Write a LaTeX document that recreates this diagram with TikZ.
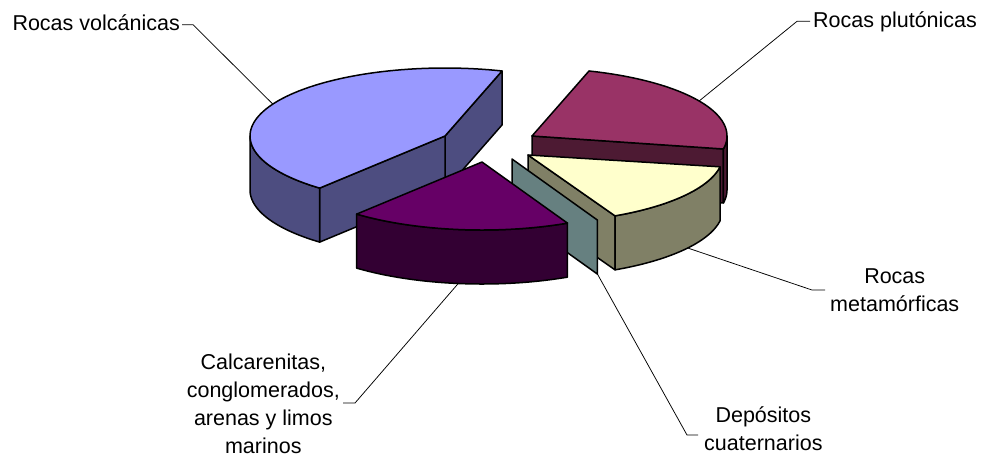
\documentclass[tikz,border=0pt]{standalone}
\usepackage{fontspec}
\setmainfont{Liberation Sans}
\definecolor{volctop}{HTML}{9999FF}
\definecolor{volcside}{HTML}{4D4D80}
\definecolor{plutop}{HTML}{993366}
\definecolor{pluside}{HTML}{4D1A33}
\definecolor{metatop}{HTML}{FFFFCC}
\definecolor{metaside}{HTML}{808066}
\definecolor{cuatside}{HTML}{668080}
\definecolor{calctop}{HTML}{660066}
\definecolor{calcside}{HTML}{330033}
\begin{document}
\begin{tikzpicture}[x=1pt,y=-1pt,
  face/.style={draw=black,line width=1.5pt,line join=round},
  leader/.style={draw=black,line width=0.75pt},
  lbl/.style={font=\fontsize{21.5}{28}\selectfont,inner sep=0pt,align=center}]
\useasboundingbox (0,0) rectangle (984,459);
% ellipse half-axes and slab thickness
\def\ra{195}\def\rb{68}\def\hh{54}

% ---- Rocas volcanicas (back left)
\def\cx{445}\def\cy{136}
\coordinate (vO) at (\cx,\cy);
\coordinate (vA) at ({\cx+\ra*cos(73)},{\cy-\rb*sin(73)});
\coordinate (vB) at ({\cx+\ra*cos(230)},{\cy-\rb*sin(230)});
\coordinate (pvol) at ({\cx+\ra*cos(152)},{\cy-\rb*sin(152)});
\filldraw[face,fill=volcside] (vO) -- (vA) -- ++(0,\hh) -- (\cx,\cy+\hh) -- cycle;
\filldraw[face,fill=volcside] (vO) -- (vB) -- ++(0,\hh) -- (\cx,\cy+\hh) -- cycle;
\filldraw[face,fill=volcside] plot[domain=180:230,samples=30] ({\cx+\ra*cos(\x)},{\cy-\rb*sin(\x)})
  -- plot[domain=230:180,samples=30] ({\cx+\ra*cos(\x)},{\cy+\hh-\rb*sin(\x)}) -- cycle;
\filldraw[face,fill=volctop] (vO) -- plot[domain=73:230,samples=80] ({\cx+\ra*cos(\x)},{\cy-\rb*sin(\x)}) -- cycle;

% ---- Rocas plutonicas (back right)
\def\cx{532}\def\cy{136}
\coordinate (uO) at (\cx,\cy);
\coordinate (uA) at ({\cx+\ra*cos(-11)},{\cy-\rb*sin(-11)});
\coordinate (pplu) at ({\cx+\ra*cos(31)},{\cy-\rb*sin(31)});
\filldraw[face,fill=pluside] (uO) -- (uA) -- ++(0,\hh) -- (\cx,\cy+\hh) -- cycle;
\filldraw[face,fill=pluside] plot[domain=-11:0,samples=10] ({\cx+\ra*cos(\x)},{\cy-\rb*sin(\x)})
  -- plot[domain=0:-11,samples=10] ({\cx+\ra*cos(\x)},{\cy+\hh-\rb*sin(\x)}) -- cycle;
\filldraw[face,fill=plutop] (uO) -- plot[domain=-11:73,samples=60] ({\cx+\ra*cos(\x)},{\cy-\rb*sin(\x)}) -- cycle;

% ---- Rocas metamorficas (front right)
\def\cx{528}\def\cy{155}
\coordinate (mO) at (\cx,\cy);
\coordinate (mA) at ({\cx+\ra*cos(-63.5)},{\cy-\rb*sin(-63.5)});
\coordinate (pmet) at ({\cx+\ra*cos(-35)},{\cy+\hh-\rb*sin(-35)});
\filldraw[face,fill=metaside] (mO) -- (mA) -- ++(0,\hh) -- (\cx,\cy+\hh) -- cycle;
\filldraw[face,fill=metaside] plot[domain=-63.5:-10,samples=40] ({\cx+\ra*cos(\x)},{\cy-\rb*sin(\x)})
  -- plot[domain=-10:-63.5,samples=40] ({\cx+\ra*cos(\x)},{\cy+\hh-\rb*sin(\x)}) -- cycle;
\filldraw[face,fill=metatop] (mO) -- plot[domain=-63.5:-10,samples=40] ({\cx+\ra*cos(\x)},{\cy-\rb*sin(\x)}) -- cycle;

% ---- Depositos cuaternarios (thin slice, only its cut face shows)
\def\cx{512}\def\cy{159}
\coordinate (dO) at (\cx,\cy);
\coordinate (dA) at ({\cx+\ra*cos(-64)},{\cy-\rb*sin(-64)});
\coordinate (pdep) at ({\cx+\ra*cos(-64)},{\cy+\hh-\rb*sin(-64)});
\filldraw[face,fill=cuatside] (dO) -- (dA) -- (pdep) -- (\cx,\cy+\hh) -- cycle;

% ---- Calcarenitas (front)
\def\cx{482}\def\cy{162}
\coordinate (cO) at (\cx,\cy);
\coordinate (pcal) at ({\cx+\ra*cos(263)},{\cy+\hh-\rb*sin(263)});
\filldraw[face,fill=calcside] plot[domain=230:296,samples=50] ({\cx+\ra*cos(\x)},{\cy-\rb*sin(\x)})
  -- plot[domain=296:230,samples=50] ({\cx+\ra*cos(\x)},{\cy+\hh-\rb*sin(\x)}) -- cycle;
\filldraw[face,fill=calctop] (cO) -- plot[domain=230:296,samples=50] ({\cx+\ra*cos(\x)},{\cy-\rb*sin(\x)}) -- cycle;

% ---- labels
\node[lbl,anchor=base east] (lvol) at (180,30) {Rocas volcánicas};
\node[lbl,anchor=base west] (lplu) at (813,27) {Rocas plutónicas};
\node[lbl,anchor=west] (lmet) at (830,290) {Rocas\\metamórficas};
\node[lbl,anchor=west] (ldep) at (704,429) {Depósitos\\cuaternarios};
\node[lbl,anchor=east] (lcal) at (340,404) {Calcarenitas,\\conglomerados,\\arenas y limos\\marinos};

% ---- leader lines
\draw[leader] ([shift={(2pt,-2.5pt)}]lvol.east) -- ++(11,0) -- (pvol);
\draw[leader] ([xshift=-3pt]lplu.west) -- ++(-13,0) -- (pplu);
\draw[leader] ([xshift=-5pt]lmet.west) -- ++(-13,0) -- (pmet);
\draw[leader] ([shift={(-6pt,-6pt)}]ldep.west) -- ++(-11,0) -- (pdep);
\draw[leader] ([shift={(3pt,1pt)}]lcal.east) -- ++(12,0) -- (pcal);
\end{tikzpicture}
\end{document}
